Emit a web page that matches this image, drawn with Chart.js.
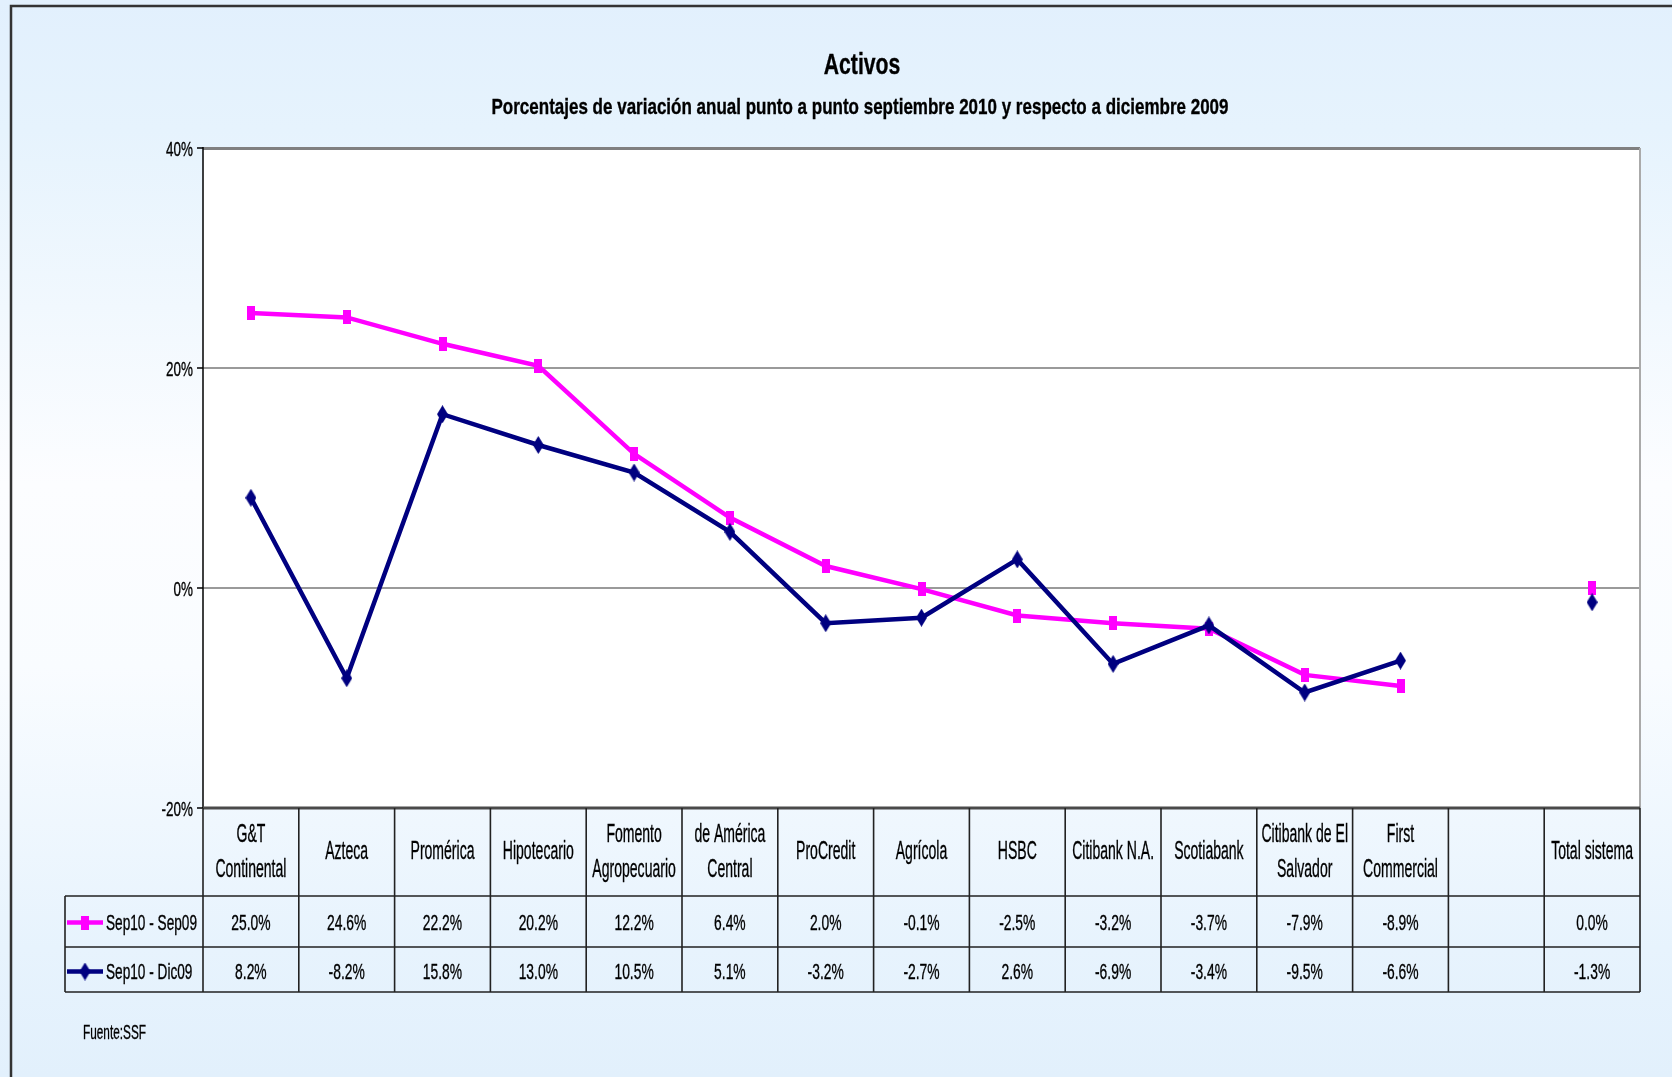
<!DOCTYPE html>
<html lang="es">
<head>
    <meta charset="UTF-8">
    <title>Activos</title>
    <script src="https://cdn.jsdelivr.net/npm/chart.js"></script>
    <style>
        body { margin: 0; background: #fff; }
        canvas { display: block; }
    </style>
</head>
<body>
    <canvas id="activos" width="1672" height="1077"></canvas>

    <script>
        // datos
        const bancos = [
            ['G&T', 'Continental'], ['Azteca'], ['Promérica'], ['Hipotecario'],
            ['Fomento', 'Agropecuario'], ['de América', 'Central'], ['ProCredit'],
            ['Agrícola'], ['HSBC'], ['Citibank N.A.'], ['Scotiabank'],
            ['Citibank de El', 'Salvador'], ['First', 'Commercial'], [''], ['Total sistema']
        ];
        const sep10Sep09 = [25.0, 24.6, 22.2, 20.2, 12.2, 6.4, 2.0, -0.1, -2.5, -3.2, -3.7, -7.9, -8.9, null, 0.0];
        const sep10Dic09 = [8.2, -8.2, 15.8, 13.0, 10.5, 5.1, -3.2, -2.7, 2.6, -6.9, -3.4, -9.5, -6.6, null, -1.3];
        const yTicks = [40, 20, 0, -20];

        const FONT = '"Liberation Sans", Arial, sans-serif';

        // texto estrechado horizontalmente (el original usa una letra muy condensada)
        function texto(ctx, s, x, y, size, sx, align, bold) {
            ctx.save();
            ctx.font = (bold ? 'bold ' : '') + size + 'px ' + FONT;
            ctx.textAlign = align;
            ctx.textBaseline = 'alphabetic';
            ctx.fillStyle = '#000';
            ctx.strokeStyle = '#000';
            ctx.lineWidth = 0.35;
            ctx.translate(x, y + size * 0.358);
            ctx.scale(sx, 1);
            ctx.fillText(s, 0, 0);
            ctx.strokeText(s, 0, 0);
            ctx.restore();
        }

        // marcadores
        function marcaCuadro() {
            const c = document.createElement('canvas');
            c.width = 8; c.height = 14;
            const g = c.getContext('2d');
            g.fillStyle = '#ff00ff';
            g.fillRect(0, 0, 8, 14);
            return c;
        }
        function marcaRombo() {
            const c = document.createElement('canvas');
            c.width = 11; c.height = 18;
            const g = c.getContext('2d');
            g.fillStyle = '#000080';
            g.beginPath();
            g.moveTo(5.5, 0); g.lineTo(11, 9); g.lineTo(5.5, 18); g.lineTo(0, 9);
            g.closePath();
            g.fill();
            return c;
        }
        const cuadro = marcaCuadro();
        const rombo = marcaRombo();

        const series = [
            { label: 'Sep10 - Sep09', data: sep10Sep09, color: '#ff00ff', marca: cuadro },
            { label: 'Sep10 - Dic09', data: sep10Dic09, color: '#000080', marca: rombo }
        ];

        const fondo = {
            id: 'fondo',
            beforeDraw(chart) {
                const ctx = chart.ctx;
                const h = chart.height;
                const gr = ctx.createLinearGradient(0, 0, 0, h);
                gr.addColorStop(0, '#e2f0fd');
                gr.addColorStop(0.12, '#e6f3fd');
                gr.addColorStop(0.45, '#fcfdff');
                gr.addColorStop(0.62, '#f9fcff');
                gr.addColorStop(0.88, '#e7f3fd');
                gr.addColorStop(1, '#e2f0fc');
                ctx.save();
                ctx.fillStyle = gr;
                ctx.fillRect(0, 0, chart.width, h);
                const a = chart.chartArea;
                ctx.fillStyle = '#ffffff';
                ctx.fillRect(a.left, a.top, a.right - a.left, a.bottom - a.top);
                // marco exterior
                ctx.strokeStyle = '#333';
                ctx.lineWidth = 2.5;
                ctx.beginPath();
                ctx.moveTo(11, h + 5);
                ctx.lineTo(11, 6);
                ctx.lineTo(chart.width + 5, 6);
                ctx.stroke();
                ctx.restore();
            }
        };

        const tabla = {
            id: 'tabla',
            afterDraw(chart) {
                const ctx = chart.ctx;
                const a = chart.chartArea;
                const x = chart.scales.x;
                const y = chart.scales.y;
                const n = bancos.length;
                const colW = (a.right - a.left) / n;
                const rowTop = a.bottom;
                const r1 = rowTop + 88;
                const r2 = r1 + 51;
                const r3 = r2 + 45;
                const legL = 65;

                ctx.save();
                // bordes del area
                ctx.strokeStyle = '#aaaaaa';
                ctx.lineWidth = 2;
                ctx.beginPath();
                ctx.moveTo(a.right, a.top);
                ctx.lineTo(a.right, a.bottom);
                ctx.stroke();

                ctx.strokeStyle = '#000';
                ctx.lineWidth = 1.5;
                ctx.beginPath();
                ctx.moveTo(a.left, a.top - 1);
                ctx.lineTo(a.left, rowTop);
                yTicks.forEach(v => {
                    const py = y.getPixelForValue(v);
                    ctx.moveTo(a.left - 6, py);
                    ctx.lineTo(a.left, py);
                });
                ctx.stroke();

                yTicks.forEach(v => {
                    texto(ctx, v + '%', a.left - 10, y.getPixelForValue(v), 21, 0.64, 'right');
                });

                // rejilla de la tabla
                ctx.strokeStyle = '#4a4a4a';
                ctx.lineWidth = 3;
                ctx.beginPath();
                ctx.moveTo(a.left, rowTop);
                ctx.lineTo(a.right, rowTop);
                ctx.stroke();

                ctx.strokeStyle = '#222';
                ctx.lineWidth = 1.6;
                ctx.beginPath();
                [r1, r2, r3].forEach(ry => {
                    ctx.moveTo(legL, ry);
                    ctx.lineTo(a.right, ry);
                });
                ctx.moveTo(legL, r1);
                ctx.lineTo(legL, r3);
                for (let i = 0; i <= n; i++) {
                    const bx = a.left + i * colW;
                    ctx.moveTo(bx, rowTop);
                    ctx.lineTo(bx, r3);
                }
                ctx.stroke();

                // encabezados y valores
                const cH = (rowTop + r1) / 2 - 2;
                const c1 = (r1 + r2) / 2 + 1;
                const c2 = (r2 + r3) / 2 + 2;
                bancos.forEach((lineas, i) => {
                    const cx = x.getPixelForValue(i);
                    if (lineas.length === 2) {
                        texto(ctx, lineas[0], cx, cH - 17.5, 26, 0.54, 'center');
                        texto(ctx, lineas[1], cx, cH + 17.5, 26, 0.54, 'center');
                    } else {
                        texto(ctx, lineas[0], cx, cH, 26, 0.54, 'center');
                    }
                    [sep10Sep09, sep10Dic09].forEach((arr, k) => {
                        const v = arr[i];
                        if (v === null) return;
                        texto(ctx, v.toFixed(1) + '%', cx, k === 0 ? c1 : c2, 22, 0.63, 'center');
                    });
                });

                // leyenda dentro de la tabla
                series.forEach((s, k) => {
                    const cy = k === 0 ? c1 : c2;
                    ctx.strokeStyle = s.color;
                    ctx.lineWidth = 4.5;
                    ctx.beginPath();
                    ctx.moveTo(legL + 2, cy);
                    ctx.lineTo(legL + 38, cy);
                    ctx.stroke();
                    ctx.drawImage(s.marca, legL + 20 - s.marca.width / 2, cy - s.marca.height / 2);
                    texto(ctx, s.label, legL + 41, cy, 22, 0.62, 'left');
                });

                // titulos y fuente
                texto(ctx, 'Activos', 862, 64, 29, 0.73, 'center', true);
                ctx.font = 'bold 22px ' + FONT;
                const sub = 'Porcentajes de variación anual punto a punto septiembre 2010 y respecto a diciembre 2009';
                texto(ctx, sub, 860, 106, 22, 737 / ctx.measureText(sub).width, 'center', true);
                texto(ctx, 'Fuente:SSF', 83, 1032, 20, 0.59, 'left');
                ctx.restore();
            }
        };

        const ctx = document.getElementById('activos').getContext('2d');
        const chart = new Chart(ctx, {
            type: 'line',
            data: {
                labels: bancos.map(b => b.join(' ')),
                datasets: series.map((s, k) => ({
                    label: s.label,
                    data: s.data,
                    borderColor: s.color,
                    backgroundColor: s.color,
                    borderWidth: 4.5,
                    pointStyle: s.marca,
                    pointRadius: 6,
                    tension: 0,
                    spanGaps: false,
                    order: k === 0 ? 1 : 0
                }))
            },
            options: {
                responsive: false,
                animation: false,
                layout: { padding: { left: 203, right: 32, top: 148, bottom: 269 } },
                scales: {
                    x: { type: 'category', offset: true, display: false },
                    y: {
                        min: -20,
                        max: 40,
                        ticks: { stepSize: 20, display: false },
                        border: { display: false },
                        grid: {
                            drawTicks: false,
                            color: c => c.tick.value === 40 ? '#808080' : (c.tick.value === -20 ? 'rgba(0,0,0,0)' : '#9a9a9a'),
                            lineWidth: c => c.tick.value === 40 ? 3 : 2
                        }
                    }
                },
                plugins: {
                    legend: { display: false },
                    title: { display: false },
                    tooltip: { enabled: false }
                }
            },
            plugins: [fondo, tabla]
        });
    </script>
</body>
</html>
